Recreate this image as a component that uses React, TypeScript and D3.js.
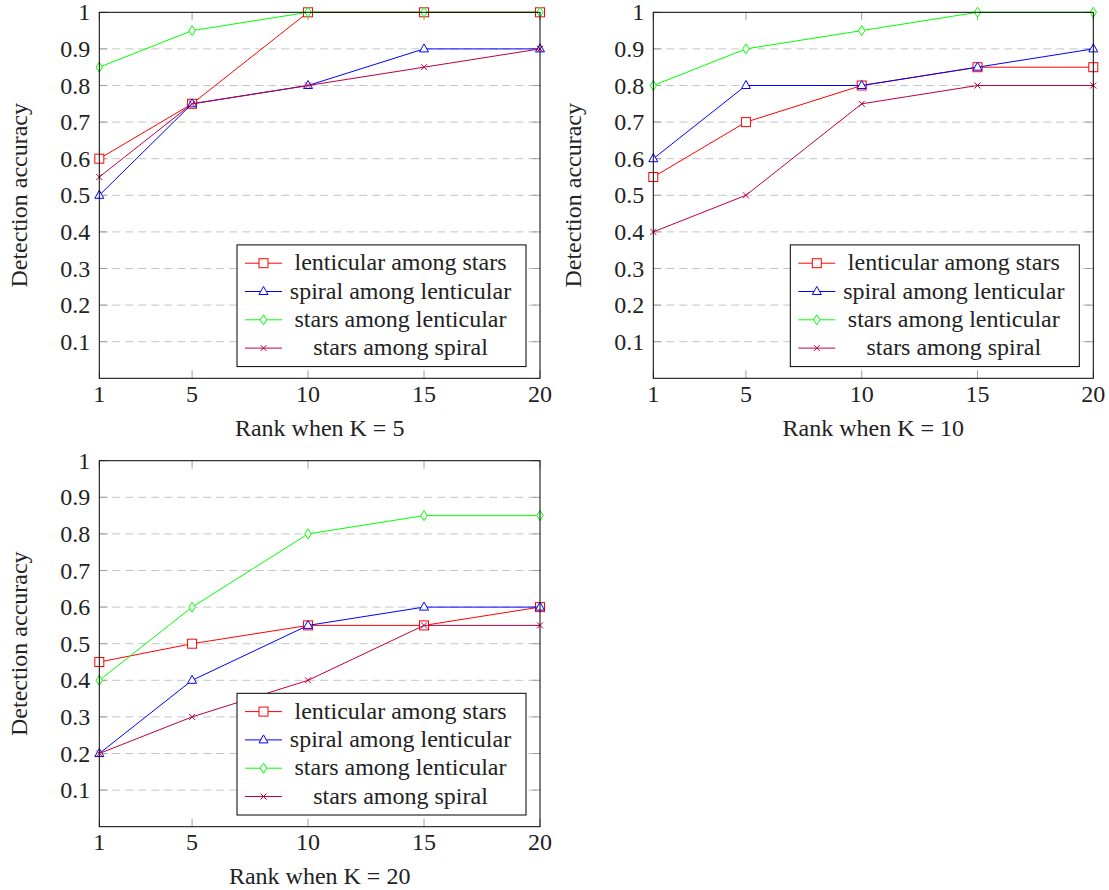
import React from "react";
import * as d3 from "d3";

const ranks = [1, 5, 10, 15, 20];
const yTicks = [0.1, 0.2, 0.3, 0.4, 0.5, 0.6, 0.7, 0.8, 0.9, 1];
const seriesNames = [
  "lenticular among stars",
  "spiral among lenticular",
  "stars among lenticular",
  "stars among spiral",
];
const seriesColors = ["#ff0000", "#0000ff", "#00ff00", "#bf0040"];
const seriesMarks = ["square", "triangle", "diamond", "x"];

const k5Lenticular = [0.6, 0.75, 1, 1, 1];
const k5Spiral = [0.5, 0.75, 0.8, 0.9, 0.9];
const k5StarsLent = [0.85, 0.95, 1, 1, 1];
const k5StarsSpiral = [0.55, 0.75, 0.8, 0.85, 0.9];

const k10Lenticular = [0.55, 0.7, 0.8, 0.85, 0.85];
const k10Spiral = [0.6, 0.8, 0.8, 0.85, 0.9];
const k10StarsLent = [0.8, 0.9, 0.95, 1, 1];
const k10StarsSpiral = [0.4, 0.5, 0.75, 0.8, 0.8];

const k20Lenticular = [0.45, 0.5, 0.55, 0.55, 0.6];
const k20Spiral = [0.2, 0.4, 0.55, 0.6, 0.6];
const k20StarsLent = [0.4, 0.6, 0.8, 0.85, 0.85];
const k20StarsSpiral = [0.2, 0.3, 0.4, 0.55, 0.55];

const panels = [
  { label: "Rank when K = 5", left: 99.3, top: 12.3, right: 540, bottom: 378.3, data: [k5Lenticular, k5Spiral, k5StarsLent, k5StarsSpiral] },
  { label: "Rank when K = 10", left: 653.3, top: 12.3, right: 1093.3, bottom: 378.3, data: [k10Lenticular, k10Spiral, k10StarsLent, k10StarsSpiral] },
  { label: "Rank when K = 20", left: 99.3, top: 460.7, right: 540, bottom: 826.7, data: [k20Lenticular, k20Spiral, k20StarsLent, k20StarsSpiral] },
];

const FONT = "Liberation Serif";
const FS = 24;

function Marker({ type, x, y, color }: { type: string; x: number; y: number; color: string }) {
  if (type === "square")
    return <rect x={x - 4.5} y={y - 4.5} width={9} height={9} fill="white" stroke={color} strokeWidth={1} />;
  if (type === "triangle") {
    const p = `${x},${y - 5} ${x - 4.5},${y + 3} ${x + 4.5},${y + 3}`;
    return <polygon points={p} fill="white" stroke={color} strokeWidth={1} />;
  }
  if (type === "diamond") {
    const p = `${x},${y - 5} ${x + 3.2},${y} ${x},${y + 5} ${x - 3.2},${y}`;
    return <polygon points={p} fill="white" stroke={color} strokeWidth={1} />;
  }
  return (
    <g stroke={color} strokeWidth={1}>
      <line x1={x - 3} y1={y - 3} x2={x + 3} y2={y + 3} />
      <line x1={x - 3} y1={y + 3} x2={x + 3} y2={y - 3} />
    </g>
  );
}

function Panel({ p }: { p: (typeof panels)[number] }) {
  const x = d3.scaleLinear().domain([1, 20]).range([p.left, p.right]);
  const y = d3.scaleLinear().domain([0, 1]).range([p.bottom, p.top]);
  const line = d3
    .line<number>()
    .x((_, i) => x(ranks[i]))
    .y((v) => y(v));
  const legW = 289;
  const legH = 121.7;
  const legRight = p.right - 14;
  const legBottom = p.bottom - 11.7;
  const legLeft = legRight - legW;
  const legTop = legBottom - legH;
  const tick = 8;
  const ts = { fontFamily: FONT, fontSize: FS, fill: "#222" } as React.CSSProperties;
  return (
    <g>
      {yTicks.slice(0, -1).map((t) => (
        <line key={t} x1={p.left} x2={p.right} y1={y(t)} y2={y(t)} stroke="#c4c4c4" strokeWidth={1} strokeDasharray="8 5" />
      ))}
      {yTicks.map((t) => (
        <g key={"yt" + t} stroke="#a0a0a0" strokeWidth={1}>
          <line x1={p.left} x2={p.left + tick} y1={y(t)} y2={y(t)} />
          <line x1={p.right - tick} x2={p.right} y1={y(t)} y2={y(t)} />
        </g>
      ))}
      {ranks.map((r) => (
        <g key={"xt" + r} stroke="#a0a0a0" strokeWidth={1}>
          <line x1={x(r)} x2={x(r)} y1={p.bottom} y2={p.bottom - tick} />
          <line x1={x(r)} x2={x(r)} y1={p.top} y2={p.top + tick} />
        </g>
      ))}
      {p.data.map((vals, si) => (
        <g key={si}>
          <path d={line(vals) || ""} fill="none" stroke={seriesColors[si]} strokeWidth={1} />
          {vals.map((v, i) => (
            <Marker key={i} type={seriesMarks[si]} x={x(ranks[i])} y={y(v)} color={seriesColors[si]} />
          ))}
        </g>
      ))}
      <rect x={p.left} y={p.top} width={p.right - p.left} height={p.bottom - p.top} fill="none" stroke="black" strokeWidth={1} />
      {yTicks.map((t) => (
        <text key={"yl" + t} x={p.left - 9} y={y(t)} dy="0.34em" textAnchor="end" style={ts}>
          {d3.format("~g")(t)}
        </text>
      ))}
      {ranks.map((r) => (
        <text key={"xl" + r} x={x(r)} y={p.bottom + 23.5} textAnchor="middle" style={ts}>
          {r}
        </text>
      ))}
      <text x={(p.left + p.right) / 2} y={p.bottom + 57.5} textAnchor="middle" style={ts}>
        {p.label}
      </text>
      <text
        transform={`translate(${p.left - 72.3},${(p.top + p.bottom) / 2}) rotate(-90)`}
        textAnchor="middle"
        style={ts}
      >
        Detection accuracy
      </text>
      <rect x={legLeft} y={legTop} width={legW} height={legH} fill="white" stroke="black" strokeWidth={1} />
      {seriesNames.map((n, i) => {
        const cy = legTop + 18.3 + i * 28.3;
        return (
          <g key={n}>
            <line x1={legLeft + 8} x2={legLeft + 45} y1={cy} y2={cy} stroke={seriesColors[i]} strokeWidth={1} />
            <Marker type={seriesMarks[i]} x={legLeft + 26.5} y={cy} color={seriesColors[i]} />
            <text x={legLeft + 163.5} y={cy} dy="0.3em" textAnchor="middle" style={ts}>
              {n}
            </text>
          </g>
        );
      })}
    </g>
  );
}

export default function App() {
  return (
    <svg width={1109} height={890} style={{ position: "absolute", left: 0, top: 0, background: "white" }}>
      <rect width={1109} height={890} fill="white" />
      {panels.map((p, i) => (
        <Panel key={i} p={p} />
      ))}
    </svg>
  );
}
